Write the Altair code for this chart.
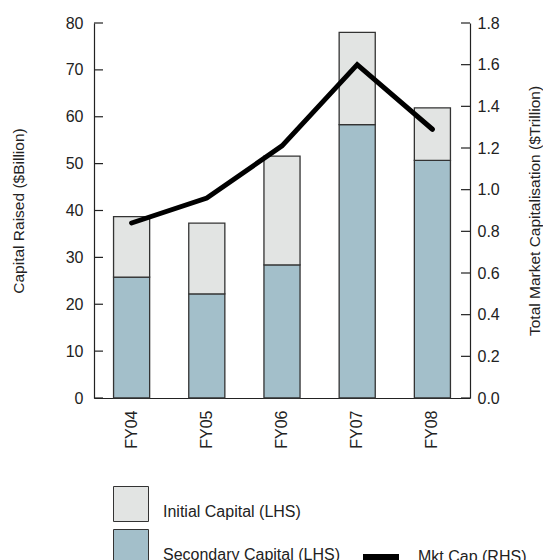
import altair as alt
import pandas as pd

years = ["FY04", "FY05", "FY06", "FY07", "FY08"]
secondary_capital = [25.8, 22.2, 28.4, 58.3, 50.7]
initial_capital = [12.9, 15.1, 23.2, 19.7, 11.2]
mkt_cap = [0.84, 0.96, 1.21, 1.60, 1.29]
left_ticks = [0, 10, 20, 30, 40, 50, 60, 70, 80]
right_ticks = [0.0, 0.2, 0.4, 0.6, 0.8, 1.0, 1.2, 1.4, 1.6, 1.8]
bar_series = ["Initial Capital (LHS)", "Secondary Capital (LHS)"]
bar_colors = ["#e2e4e3", "#a3bfca"]
line_series = "Mkt Cap (RHS)"

W, H = 376, 375
DIN = "Liberation Sans"
TFONT = "Liberation Sans"
INK = "#222222"

rows = []
for yr, s, i in zip(years, secondary_capital, initial_capital):
    rows.append({"year": yr, "series": bar_series[1], "value": s, "ord": 0})
    rows.append({"year": yr, "series": bar_series[0], "value": i, "ord": 1})
bars_df = pd.DataFrame(rows)
line_df = pd.DataFrame({"year": years, "cap": mkt_cap, "name": [line_series] * len(years)})
lt_df = pd.DataFrame({"t": left_ticks})
rt_df = pd.DataFrame({"t": right_ticks})

x_enc = alt.X(
    "year:N", sort=years, title=None,
    scale=alt.Scale(paddingInner=0.52, paddingOuter=0.26),
    axis=alt.Axis(labelAngle=270, labelAlign="right", labelBaseline="middle",
                  labelPadding=12, ticks=False, labelFontSize=16, labelFont=DIN,
                  labelColor=INK, domainColor=INK, domainWidth=1.2),
)

left_scale = alt.Scale(domain=[0, 80], nice=False)
right_scale = alt.Scale(domain=[0, 1.8], nice=False)

left_axis = alt.Axis(values=left_ticks, ticks=False, grid=False, labelPadding=11,
                     labelFontSize=16, labelFont=DIN, labelColor=INK,
                     domainColor=INK, domainWidth=1.2,
                     title="Capital Raised ($Billion)", titleFont=TFONT,
                     titleFontSize=15.5, titleFontWeight="normal", titleColor=INK,
                     titleAngle=270, titleX=-76, titleY=H / 2,
                     titleAlign="center", titleBaseline="middle")
right_axis = alt.Axis(orient="right", values=right_ticks, format=".1f", ticks=False,
                      grid=False, labelPadding=7, labelFontSize=16, labelFont=DIN,
                      labelColor=INK, domainColor=INK, domainWidth=1.2,
                      title="Total Market Capitalisation ($Trillion)", titleFont=TFONT,
                      titleFontSize=15.5, titleFontWeight="normal", titleColor=INK,
                      titleAngle=270, titleX=64, titleY=H / 2,
                      titleAlign="center", titleBaseline="middle")

bars = alt.Chart(bars_df).mark_bar(stroke="#333333", strokeWidth=1.3).encode(
    x=x_enc,
    y=alt.Y("value:Q", stack="zero", scale=left_scale, axis=left_axis),
    color=alt.Color("series:N", scale=alt.Scale(domain=bar_series, range=bar_colors),
                    legend=alt.Legend(orient="none", legendX=19, legendY=463, title=None,
                                      direction="vertical", symbolType="square",
                                      symbolSize=1225, symbolStrokeColor="#333333",
                                      symbolStrokeWidth=1, labelFontSize=16,
                                      labelFont=DIN, labelColor=INK,
                                      labelOffset=14, rowPadding=3, padding=0,
                                      labelBaseline="top", labelLimit=300)),
    order=alt.Order("ord:Q"),
)

left_tick_marks = alt.Chart(lt_df).mark_rule(color=INK, strokeWidth=1.2).encode(
    y=alt.Y("t:Q", scale=left_scale, axis=left_axis),
    x=alt.value(0), x2=alt.value(9),
)

line = alt.Chart(line_df).mark_line(strokeWidth=5, strokeCap="round", strokeJoin="miter").encode(
    x=x_enc,
    y=alt.Y("cap:Q", scale=right_scale, axis=right_axis),
    stroke=alt.Stroke("name:N", scale=alt.Scale(domain=[line_series], range=["#000000"]),
                      legend=alt.Legend(orient="none", legendX=266, legendY=513, title=None,
                                        symbolType="stroke", symbolSize=1296,
                                        symbolStrokeWidth=6, labelFontSize=16,
                                        labelFont=DIN, labelColor=INK, labelOffset=16,
                                        padding=0, labelLimit=300)),
)

right_tick_marks = alt.Chart(rt_df).mark_rule(color=INK, strokeWidth=1.2).encode(
    y=alt.Y("t:Q", scale=right_scale, axis=right_axis),
    x=alt.value(W - 9), x2=alt.value(W),
)

left_layer = alt.layer(bars, left_tick_marks)
right_layer = alt.layer(line, right_tick_marks)

chart = alt.layer(left_layer, right_layer).resolve_scale(
    y="independent", color="independent", stroke="independent"
).properties(
    width=W, height=H,
    autosize=alt.AutoSizeParams(type="none"),
    padding={"left": 86, "top": 15, "right": 73, "bottom": 162},
    background="white",
).configure_view(stroke=None)

chart.save("out.html", embed_options={"renderer": "svg", "actions": False})
